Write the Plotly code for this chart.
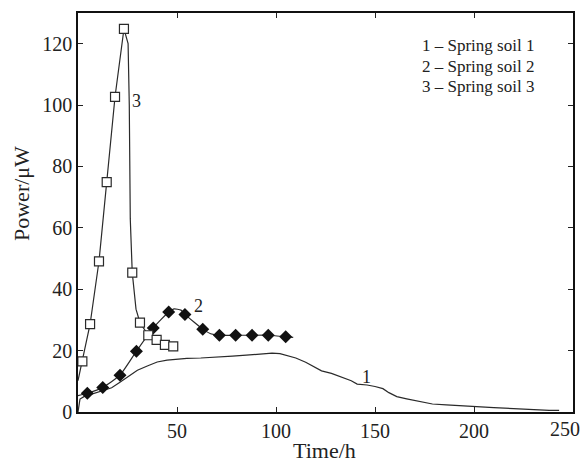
import plotly.graph_objects as go

# Series 1 (line only)
s1_x = [0, 0.5, 1, 3, 6, 10, 13, 17, 21, 25, 30, 35, 40, 45, 50, 55, 62, 70, 78, 85, 92, 98, 102,
        106, 110, 115, 119, 123, 128, 134, 138, 141, 146, 150, 154, 157, 161, 166, 172, 179, 186,
        193, 200, 210, 220, 227, 231, 238, 243]
s1_y = [0, 2.5, 4.2, 5.0, 5.6, 6.3, 6.9, 7.9, 9.6, 11.4, 13.6, 15.0, 16.3, 16.9, 17.3, 17.5, 17.6,
        17.8, 18.2, 18.5, 19.0, 19.2, 19.0, 18.2, 17.6, 16.2, 14.8, 13.4, 12.6, 11.3, 10.2, 9.1,
        8.8, 8.3, 7.6, 6.3, 5.0, 4.3, 3.5, 2.6, 2.3, 2.0, 1.8, 1.4, 1.1, 0.9, 0.6, 0.5, 0.5]

# Series 2 (filled diamonds)
s2_line_x = [0, 4.7, 12.5, 21.2, 29.5, 38, 45.8, 48.5, 52, 54, 63, 67, 71.4, 79.6, 87.9, 96.1, 104.9, 108.7]
s2_line_y = [5.3, 6.1, 8.0, 12.0, 19.8, 27.4, 32.6, 33.6, 33.2, 31.8, 27.0, 25.5, 25.0, 25.0, 25.0, 25.0, 24.5, 24.3]
s2_mark_x = [4.7, 12.5, 21.2, 29.5, 38, 45.8, 54, 63, 71.4, 79.6, 87.9, 96.1, 104.9]
s2_mark_y = [6.1, 8.0, 12.0, 19.8, 27.4, 32.6, 31.8, 27.0, 25.0, 25.0, 25.0, 25.0, 24.5]

# Series 3 (open squares)
s3_line_x = [0, 2.2, 6.1, 10.6, 14.5, 18.7, 23.2, 25.3, 25.9, 26.1, 26.4, 27.4, 29.3, 31.3, 35.5, 39.7, 43.9, 48.1]
s3_line_y = [10.2, 16.5, 28.6, 49.1, 74.9, 102.7, 124.8, 120, 100, 86, 63, 45.4, 33.5, 29.1, 25.0, 23.5, 21.9, 21.4]
s3_mark_x = [2.2, 6.1, 10.6, 14.5, 18.7, 23.2, 27.4, 31.3, 35.5, 39.7, 43.9, 48.1]
s3_mark_y = [16.5, 28.6, 49.1, 74.9, 102.7, 124.8, 45.4, 29.1, 25.0, 23.5, 21.9, 21.4]

x_ticks = [0, 50, 100, 150, 200, 250]
x_ticktext = ["", "50", "100", "150", "200", ""]
x_last_label = "250"
y_ticks = [0, 20, 40, 60, 80, 100, 120]

legend_lines = ["1 – Spring soil 1", "2 – Spring soil 2", "3 – Spring soil 3"]
curve_labels = ["1", "2", "3"]
curve_label_x = [145.8, 60.8, 29.6]
curve_label_y = [11.3, 34.5, 101.3]

FONT = "Liberation Serif, Times New Roman, DejaVu Serif, serif"
LC = "#2a2a2a"

fig = go.Figure()
fig.add_trace(go.Scatter(x=s1_x, y=s1_y, mode="lines", line=dict(color=LC, width=1.2)))
fig.add_trace(go.Scatter(x=s2_line_x, y=s2_line_y, mode="lines", line=dict(color=LC, width=1.2, shape="spline", smoothing=0.5)))
fig.add_trace(go.Scatter(x=s3_line_x, y=s3_line_y, mode="lines", line=dict(color=LC, width=1.2)))
fig.add_trace(go.Scatter(x=s2_mark_x, y=s2_mark_y, mode="markers",
                         marker=dict(symbol="diamond", size=10, color="#111", line=dict(width=0))))
fig.add_trace(go.Scatter(x=s3_mark_x, y=s3_mark_y, mode="markers",
                         marker=dict(symbol="square", size=9, color="white", line=dict(width=1.2, color=LC))))

for t, xx, yy in zip(curve_labels, curve_label_x, curve_label_y):
    fig.add_annotation(x=xx, y=yy, text=t, showarrow=False, xref="x", yref="y",
                       xanchor="center", yanchor="middle",
                       font=dict(family=FONT, size=18, color="#222"))

legend_y = [119.3, 112.6, 106.1]
for t, yy in zip(legend_lines, legend_y):
    fig.add_annotation(x=202, y=yy, text=t, showarrow=False, xref="x", yref="y",
                       xanchor="center", yanchor="middle",
                       font=dict(family=FONT, size=17, color="#222"))

W, H = 586, 462
ml, mr, mt, mb = 78, 13, 13, 50

def px_to_paper(px, py):
    return (px - ml) / (W - ml - mr), 1 - (py - mt) / (H - mt - mb)

tx, ty = px_to_paper(22, 194)
fig.add_annotation(x=tx, y=ty, xref="paper", yref="paper", text="Power/μW", textangle=-90, showarrow=False,
                   xanchor="center", yanchor="middle",
                   font=dict(family=FONT, size=22, color="#222"))
tx, ty = px_to_paper(324, 450)
fig.add_annotation(x=tx, y=ty, xref="paper", yref="paper", text="Time/h", showarrow=False,
                   xanchor="center", yanchor="middle",
                   font=dict(family=FONT, size=22, color="#222"))
tx, ty = px_to_paper(582, 416)
fig.add_annotation(x=tx, y=ty, xref="paper", yref="paper", text=x_last_label, showarrow=False,
                   xanchor="right", yanchor="top",
                   font=dict(family=FONT, size=20, color="#222"))

fig.update_layout(
    template="none",
    width=W, height=H,
    margin=dict(l=ml, r=mr, t=mt, b=mb, autoexpand=False),
    paper_bgcolor="white", plot_bgcolor="white",
    showlegend=False,
    font=dict(family=FONT, size=19, color="#222"),
)
fig.update_xaxes(range=[0, 250], tickvals=x_ticks, ticktext=x_ticktext, ticks="inside", ticklen=5,
                 tickcolor="#222", showline=True, linecolor="#111", linewidth=1.5, mirror="ticks",
                 showgrid=False, zeroline=False, automargin=False, ticklabeloverflow="allow",
                 tickfont=dict(family=FONT, size=20))
fig.update_yaxes(range=[0, 130], tickvals=y_ticks, ticks="inside", ticklen=5,
                 tickcolor="#222", showline=True, linecolor="#111", linewidth=1.5, mirror="ticks",
                 showgrid=False, zeroline=False, automargin=False, ticklabeloverflow="allow",
                 tickfont=dict(family=FONT, size=20))

fig.write_html("out.html", config={"displayModeBar": False},
               post_script="document.body.style.margin='0';document.body.style.overflow='hidden';")
